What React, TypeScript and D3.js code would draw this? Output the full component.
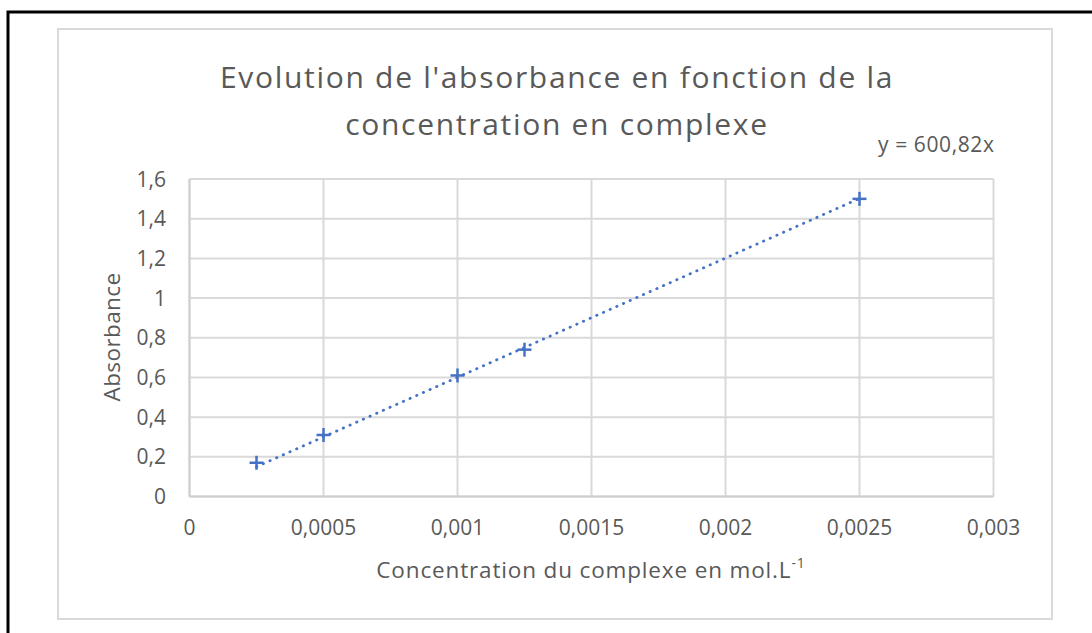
import React from 'react';
import * as d3 from 'd3';

// données
const concentrations = [0.00025, 0.0005, 0.001, 0.00125, 0.0025];
const absorbances = [0.17, 0.31, 0.61, 0.74, 1.5];
const slope = 600.82;
const xTicks = [0, 0.0005, 0.001, 0.0015, 0.002, 0.0025, 0.003];
const yTicks = [0, 0.2, 0.4, 0.6, 0.8, 1, 1.2, 1.4, 1.6];
const titleLines = ["Evolution de l'absorbance en fonction de la", 'concentration en complexe'];

const W = 1092;
const H = 633;
const FONT = '"Open Sans", Lato, sans-serif';
const TEXT = '#595959';
const GRID = '#D9D9D9';
const BLUE = '#4472C4';

const fr = (v: number) => String(+v.toPrecision(6)).replace('.', ',');

export default function App() {
  const plot = { left: 189.5, right: 993.5, top: 179, bottom: 496.5 };

  const x = d3.scaleLinear().domain([0, 0.003]).range([plot.left, plot.right]);
  const y = d3.scaleLinear().domain([0, 1.6]).range([plot.bottom, plot.top]);

  const trendX = d3.extent(concentrations) as [number, number];
  const trend = d3.line<number>()
    .x(d => x(d))
    .y(d => y(slope * d))(trendX);

  const points = concentrations.map((c, i) => ({ c, a: absorbances[i] }));
  const m = 7;

  return (
    <svg width={W} height={H} style={{ position: 'absolute', left: 0, top: 0, background: '#fff' }}>
      {/* cadre noir */}
      <path d={`M8,${H} V12 H${W}`} fill="none" stroke="#000" strokeWidth={3} />
      {/* zone du graphique */}
      <rect x={58} y={29} width={994} height={590} fill="#fff" stroke={GRID} strokeWidth={2} />

      {/* titre */}
      <g fontFamily={FONT} fill={TEXT} fontSize={30} textAnchor="middle" letterSpacing={1.7}>
        {titleLines.map((t, i) => (
          <text key={i} x={557} y={88 + i * 47}>{t}</text>
        ))}
      </g>

      {/* grille */}
      <g stroke={GRID} strokeWidth={2}>
        {yTicks.map(t => (
          <line key={'y' + t} x1={plot.left} x2={plot.right} y1={y(t)} y2={y(t)} />
        ))}
        {xTicks.map(t => (
          <line key={'x' + t} x1={x(t)} x2={x(t)} y1={plot.top} y2={plot.bottom} />
        ))}
      </g>
      <line x1={plot.left} x2={plot.right} y1={y(0)} y2={y(0)} stroke="#CFCFCF" strokeWidth={2} />
      <line x1={x(0)} x2={x(0)} y1={plot.top} y2={plot.bottom} stroke="#CFCFCF" strokeWidth={2} />

      {/* graduations */}
      <g fontFamily={FONT} fill={TEXT} fontSize={21}>
        {yTicks.map(t => (
          <text key={t} x={166} y={y(t) + 7.5} textAnchor="end">{fr(t)}</text>
        ))}
        {xTicks.map(t => (
          <text key={t} x={x(t)} y={535} textAnchor="middle">{fr(t)}</text>
        ))}
      </g>

      {/* titres des axes */}
      <text
        x={0}
        y={0}
        transform={`translate(120,337) rotate(-90)`}
        fontFamily={FONT}
        fontSize={22.5}
        fill={TEXT}
        textAnchor="middle"
        letterSpacing={0.4}
      >
        Absorbance
      </text>
      <text
        x={591}
        y={578}
        fontFamily={FONT}
        fontSize={22.5}
        fill={TEXT}
        textAnchor="middle"
        letterSpacing={0.85}
      >
        Concentration du complexe en mol.L
        <tspan fontSize={14} dy={-10}>-1</tspan>
      </text>

      {/* courbe de tendance */}
      <path
        d={trend || ''}
        fill="none"
        stroke={BLUE}
        strokeWidth={2.75}
        strokeDasharray="0.4 6.9"
        strokeLinecap="round"
      />

      {/* points */}
      <g stroke={BLUE} strokeWidth={2.5}>
        {points.map(p => (
          <g key={p.c} transform={`translate(${x(p.c)},${y(p.a)})`}>
            <line x1={-m} x2={m} y1={0} y2={0} />
            <line x1={0} x2={0} y1={-m} y2={m} />
          </g>
        ))}
      </g>

      {/* équation */}
      <text x={878} y={152} fontFamily={FONT} fontSize={21} fill={TEXT} letterSpacing={0.6}>
        {'y = ' + fr(slope) + 'x'}
      </text>
    </svg>
  );
}
